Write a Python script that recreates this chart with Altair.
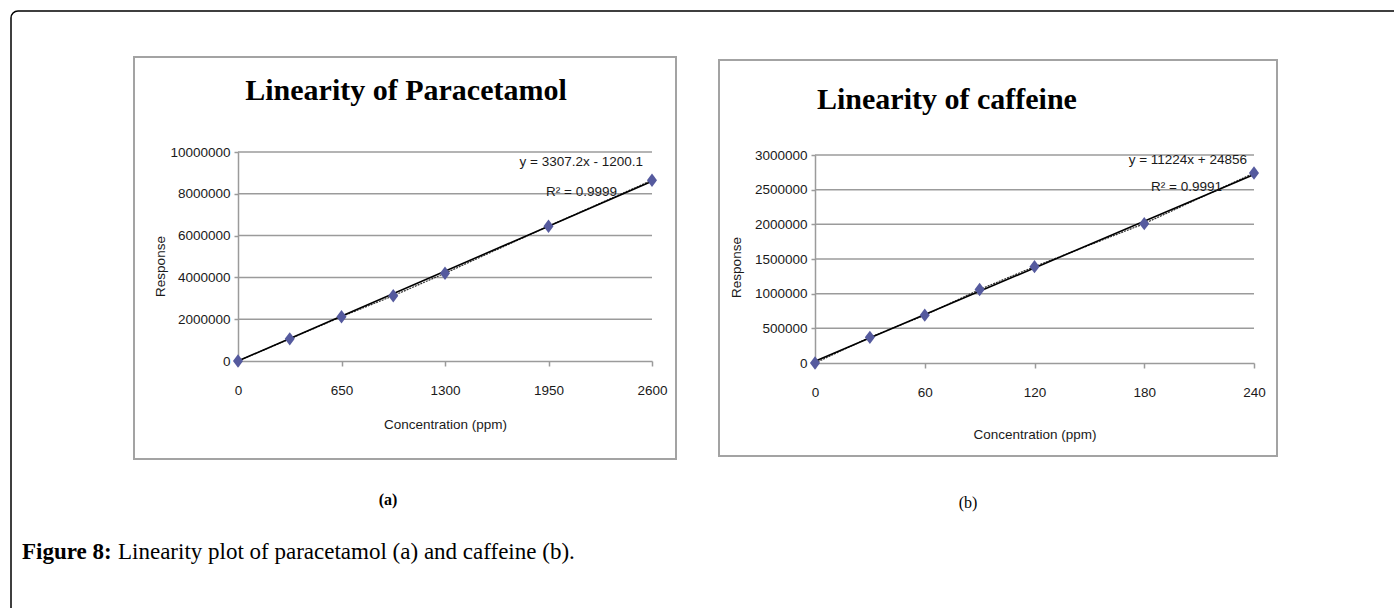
import altair as alt
import pandas as pd

W, H = 1394, 608
SANS = "Liberation Sans, Arial, sans-serif"
SERIF = "Liberation Serif, Times New Roman, serif"
GRID = "#9b9b9b"
FRAME = "#a3a3a3"
POINT = "#555a9e"
TEXT = "#1a1a1a"
FS = 13.5

# Paracetamol calibration
para_conc = [0, 325, 650, 975, 1300, 1950, 2600]
para_resp = [0, 1060000, 2120000, 3120000, 4200000, 6450000, 8650000]
para_slope, para_intercept, para_r2 = 3307.2, -1200.1, "0.9999"
para_xticks = [0, 650, 1300, 1950, 2600]
para_yticks = [0, 2000000, 4000000, 6000000, 8000000, 10000000]

# Caffeine calibration
caff_conc = [0, 30, 60, 90, 120, 180, 240]
caff_resp = [0, 370000, 690000, 1060000, 1390000, 2010000, 2740000]
caff_slope, caff_intercept, caff_r2 = 11224, 24856, "0.9991"
caff_xticks = [0, 60, 120, 180, 240]
caff_yticks = [0, 500000, 1000000, 1500000, 2000000, 2500000, 3000000]

# elongated diamond marker
DIAMOND = "M0,-1L0.75,0L0,1L-0.75,0Z"

one = pd.DataFrame({"k": [0]})


def label(text, x, y, **kw):
    return alt.Chart(one).mark_text(**kw).encode(
        x=alt.value(x), y=alt.value(y), text=alt.value(text)
    )


def box(x0, x1, y0, y1, **kw):
    return alt.Chart(one).mark_rect(**kw).encode(
        x=alt.value(x0), x2=alt.value(x1), y=alt.value(y0), y2=alt.value(y1)
    )


def equation(slope, intercept):
    sign = "-" if intercept < 0 else "+"
    return f"y = {slope:g}x {sign} {abs(intercept):g}"


def panel(conc, resp, slope, intercept, xticks, yticks, xr, yr, ytitle_xy, xtitle_y):
    xs = alt.Scale(domain=[xticks[0], xticks[-1]], range=xr, nice=False, zero=False)
    ys = alt.Scale(domain=[yticks[0], yticks[-1]], range=yr, nice=False, zero=False)
    common = dict(
        grid=False, labelFont=SANS, labelFontSize=FS, labelColor=TEXT,
        domainColor=GRID, domainWidth=1.5, tickColor=GRID, tickWidth=1.5,
        titleFont=SANS, titleFontSize=FS, titleFontWeight="normal", titleColor=TEXT,
        titleAlign="center", titleBaseline="middle", format="d", labelFlush=False,
    )
    xax = alt.Axis(
        orient="bottom", offset=-(H - yr[0]), values=xticks, tickSize=5,
        labelPadding=17, title="Concentration (ppm)", titleY=xtitle_y - yr[0], **common
    )
    yax = alt.Axis(
        orient="left", offset=-xr[0], values=yticks, tickSize=4, labelPadding=4,
        title="Response", titleX=ytitle_xy[0] - xr[0], titleY=ytitle_xy[1],
        titleAngle=-90, **common
    )
    pts = pd.DataFrame({"c": conc, "r": resp})
    fit = pd.DataFrame({"c": [conc[0], conc[-1]]})
    fit["r"] = [slope * c + intercept for c in fit["c"]]
    grid = pd.DataFrame({"r": yticks[1:]})
    grid["c"] = xticks[0]
    grid["c2"] = xticks[-1]

    x = alt.X("c:Q", scale=xs, axis=xax)
    y = alt.Y("r:Q", scale=ys, axis=yax)

    gridlines = alt.Chart(grid).mark_rule(color=GRID, strokeWidth=1.5).encode(
        x=x, x2="c2:Q", y=y
    )
    joined = alt.Chart(pts).mark_line(color="#333333", strokeWidth=1.2, strokeDash=[2, 1]).encode(
        x=x, y=y
    )
    trend = alt.Chart(fit).mark_line(color="black", strokeWidth=1.6).encode(x=x, y=y)
    points = alt.Chart(pts).mark_point(
        shape=DIAMOND, filled=True, size=180, color=POINT, opacity=1
    ).encode(x=x, y=y)
    return alt.layer(gridlines, joined, trend, points)


para = panel(
    para_conc, para_resp, para_slope, para_intercept, para_xticks, para_yticks,
    [238, 652], [361, 152], (160, 266), 424,
)
caff = panel(
    caff_conc, caff_resp, caff_slope, caff_intercept, caff_xticks, caff_yticks,
    [815, 1254], [363, 155], (736, 267), 434,
)

decor = [
    box(11, W + 40, 11, H + 40, fill="transparent", stroke="black", strokeWidth=1.5, cornerRadius=7),
    box(134, 676, 57, 459, fill="transparent", stroke=FRAME, strokeWidth=2),
    box(719, 1277, 60, 456, fill="transparent", stroke=FRAME, strokeWidth=2),
]

texts = [
    label("Linearity of Paracetamol", 406, 100, font=SERIF, fontSize=30, fontWeight="bold",
          align="center", baseline="alphabetic", color="black"),
    label("Linearity of caffeine", 817, 109, font=SERIF, fontSize=30, fontWeight="bold",
          align="left", baseline="alphabetic", color="black"),
    label(equation(para_slope, para_intercept), 643, 162, font=SANS, fontSize=FS,
          align="right", baseline="middle", color=TEXT),
    label(f"R² = {para_r2}", 617, 192, font=SANS, fontSize=FS,
          align="right", baseline="middle", color=TEXT),
    label(equation(caff_slope, caff_intercept), 1247, 160, font=SANS, fontSize=FS,
          align="right", baseline="middle", color=TEXT),
    label(f"R² = {caff_r2}", 1222, 187, font=SANS, fontSize=FS,
          align="right", baseline="middle", color=TEXT),
    label("(a)", 388, 500, font=SERIF, fontSize=16, fontWeight="bold",
          align="center", baseline="middle", color="black"),
    label("(b)", 968, 503, font=SERIF, fontSize=16,
          align="center", baseline="middle", color="black"),
    label("Figure 8:", 22, 552, font=SERIF, fontSize=23, fontWeight="bold",
          align="left", baseline="middle", color="black"),
    label("Linearity plot of paracetamol (a) and caffeine (b).", 118, 552, font=SERIF,
          fontSize=23, align="left", baseline="middle", color="black"),
]

chart = (
    alt.layer(*decor, para, caff, *texts)
    .resolve_scale(x="independent", y="independent")
    .resolve_axis(x="independent", y="independent")
    .properties(
        width=W, height=H, padding=0, background="white",
        autosize=alt.AutoSizeParams(type="none"),
    )
    .configure_view(strokeWidth=0)
)

chart.save("out.html", embed_options={"renderer": "svg", "actions": False})
